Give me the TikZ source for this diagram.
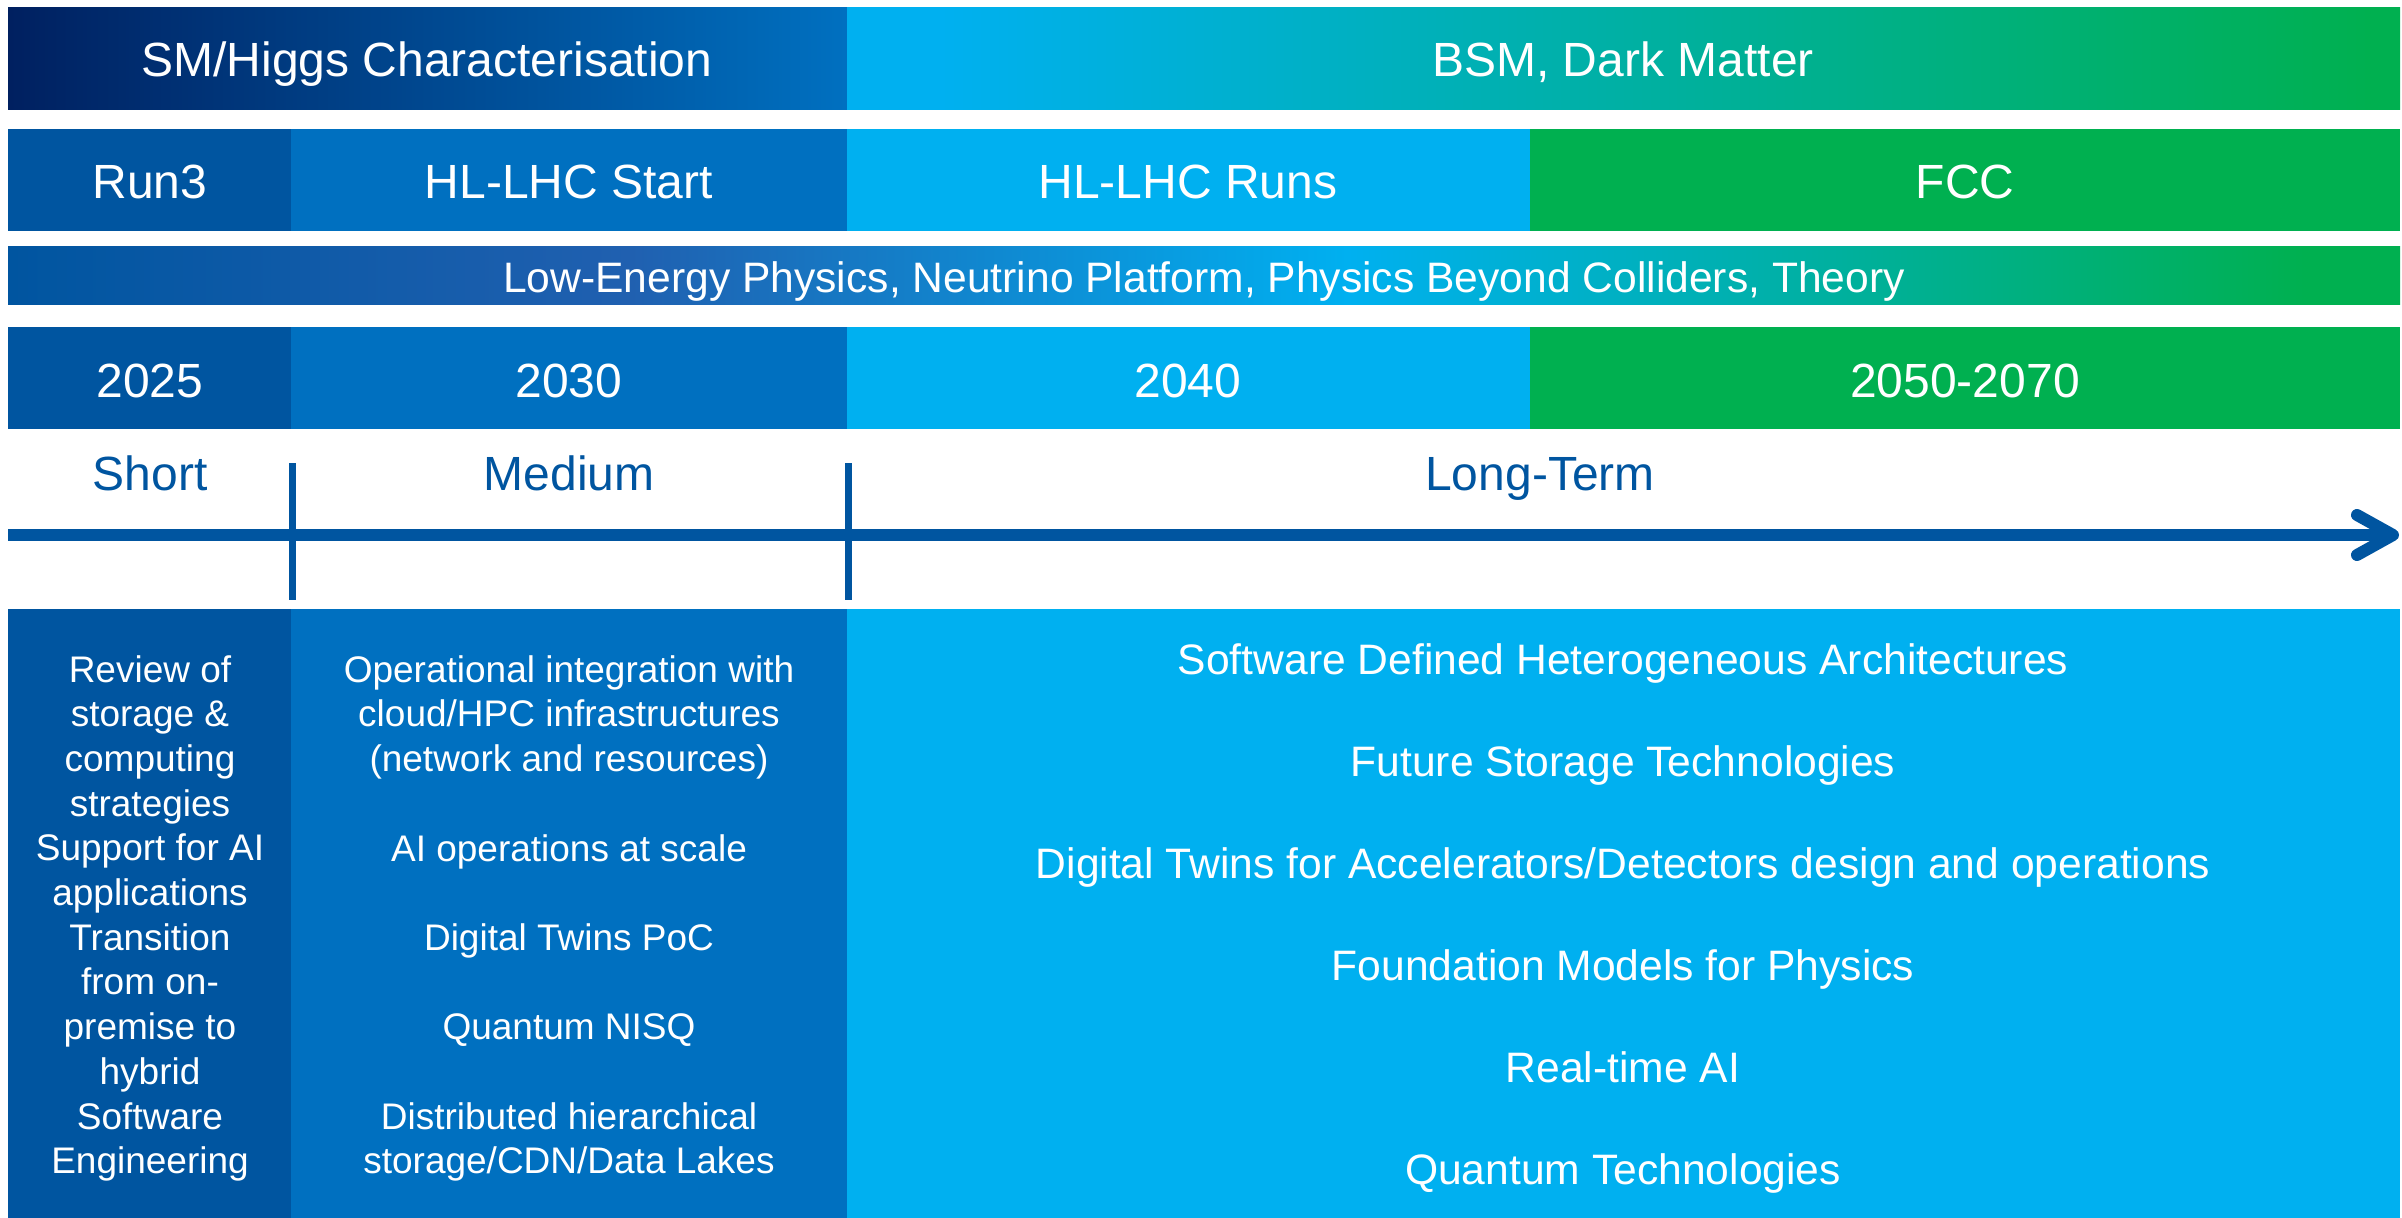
\documentclass[tikz,border=0pt]{standalone}
\usepackage{fontspec}
\setmainfont{Liberation Sans}
\usepackage{tikz}
\usetikzlibrary{arrows.meta,positioning}

\definecolor{navy}{HTML}{002060}
\definecolor{runblue}{HTML}{0055A0}
\definecolor{startblue}{HTML}{0070C0}
\definecolor{midblue}{HTML}{2060B0}
\definecolor{runscyan}{HTML}{00B0F0}
\definecolor{fccgreen}{HTML}{00B050}

\pgfdeclarehorizontalshading{lowenergy}{100bp}{color(0bp)=(runblue); color(25bp)=(runblue);
    color(38bp)=(midblue); color(53bp)=(runscyan); color(73bp)=(fccgreen); color(100bp)=(fccgreen)}
\pgfdeclarehorizontalshading{bsmshade}{100bp}{color(0bp)=(runscyan); color(25bp)=(runscyan);
    color(28bp)=(runscyan); color(74bp)=(fccgreen); color(100bp)=(fccgreen)}

\begin{document}
\begin{tikzpicture}[x=1pt,y=-1pt,
            every node/.style={text=white, inner sep=0pt},
            bigtxt/.style={font=\fontsize{48}{56}\selectfont, anchor=base},
            midtxt/.style={font=\fontsize{42.6}{50}\selectfont, anchor=base},
            listtxt/.style={font=\fontsize{37}{44.7}\selectfont, align=center, anchor=north},
            axistxt/.style={bigtxt, text=runblue},
            axisline/.style={draw=runblue, line width=12pt}]

            \useasboundingbox (0,0) rectangle (2402,1218);

            % physics programme
            \fill[left color=navy, right color=startblue] (8,7) rectangle (847,109);
            \fill[shading=bsmshade] (847,7) rectangle (2400,109);
            \node[bigtxt] (sm) at (427,76) {SM/Higgs Characterisation};
            \node[bigtxt] (bsm) at (1623,76) {BSM, Dark Matter};

            % machines
            \fill[runblue] (8,129) rectangle (291,231);
            \fill[startblue] (291,129) rectangle (847,231);
            \fill[runscyan] (847,129) rectangle (1530,231);
            \fill[fccgreen] (1530,129) rectangle (2400,231);
            \node[bigtxt] (runthree) at (150,198) {Run3};
            \node[bigtxt] (hlstart) at (569,198) {HL-LHC Start};
            \node[bigtxt] (hlruns) at (1188,198) {HL-LHC Runs};
            \node[bigtxt] (fcc) at (1965,198) {FCC};

            \fill[shading=lowenergy] (8,246) rectangle (2400,304);
            \node[midtxt] (lowen) at (1204,292) {Low-Energy Physics, Neutrino Platform, Physics Beyond Colliders, Theory};

            % years
            \fill[runblue] (8,327) rectangle (291,429);
            \fill[startblue] (291,327) rectangle (847,429);
            \fill[runscyan] (847,327) rectangle (1530,429);
            \fill[fccgreen] (1530,327) rectangle (2400,429);
            \node[bigtxt] (yA) at (150,397) {2025};
            \node[bigtxt] (yB) at (569,397) {2030};
            \node[bigtxt] (yC) at (1188,397) {2040};
            \node[bigtxt] (yD) at (1965,397) {2050-2070};

            % time axis
            \node[axistxt] (short) at (150,490) {Short};
            \node[axistxt] (medium) at (569,490) {Medium};
            \node[axistxt] (longterm) at (1540,490) {Long-Term};
            \coordinate (axstart) at (8,535);
            \coordinate (axend) at (2399,535);
            \draw[axisline, -{Straight Barb[length=36pt,width=40pt,round]}] (axstart) -- (axend);
            \draw[runblue, line width=7pt] (292,463) -- (292,600);
            \draw[runblue, line width=7pt] (848,463) -- (848,600);

            % activities
            \fill[runblue] (8,609) rectangle (291,1218);
            \fill[startblue] (291,609) rectangle (847,1218);
            \fill[runscyan] (847,609) rectangle (2400,1218);

            \node[listtxt] (shortlist) at (150,655) {Review of\\storage \&\\computing\\strategies\\Support for AI\\applications\\Transition\\from on-\\premise to\\hybrid\\Software\\Engineering};

            \node[listtxt] (opint) at (569,655) {Operational integration with\\cloud/HPC infrastructures\\(network and resources)};
            \node[listtxt] (aiops) at (569,834) {AI operations at scale};
            \node[listtxt] (dtpoc) at (569,923) {Digital Twins PoC};
            \node[listtxt] (qnisq) at (569,1013) {Quantum NISQ};
            \node[listtxt] (dhstore) at (569,1102) {Distributed hierarchical\\storage/CDN/Data Lakes};

            \node[midtxt] (sdha) at (1623,674) {Software Defined Heterogeneous Architectures};
            \node[midtxt] (fst) at (1623,776) {Future Storage Technologies};
            \node[midtxt] (dtwin) at (1623,878) {Digital Twins for Accelerators/Detectors design and operations};
            \node[midtxt] (fmp) at (1623,980) {Foundation Models for Physics};
            \node[midtxt] (rtai) at (1623,1082) {Real-time AI};
            \node[midtxt] (qtech) at (1623,1184) {Quantum Technologies};

        \end{tikzpicture}
\end{document}
